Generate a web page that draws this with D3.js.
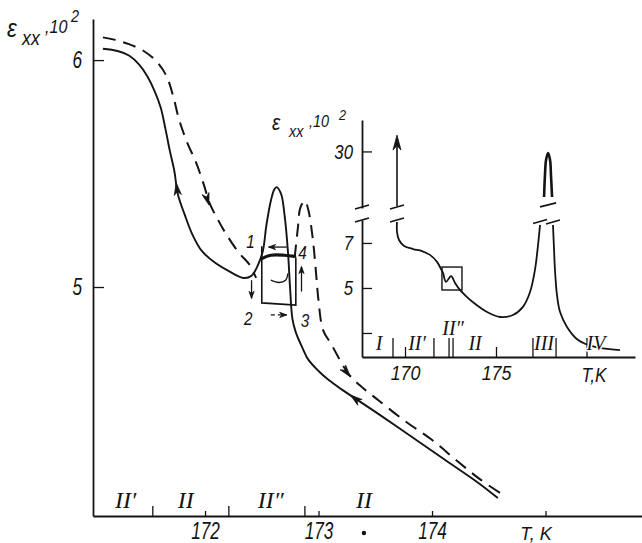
<!DOCTYPE html>
<html>
<head>
<meta charset="utf-8">
<script src="https://cdn.jsdelivr.net/npm/d3@7"></script>
<style>
  html, body { margin: 0; padding: 0; background: #fff; }
  svg { display: block; }
  .num { font-family: "Liberation Sans", "DejaVu Sans", sans-serif; font-style: italic; }
  .roman { font-family: "Liberation Serif", "DejaVu Serif", serif; font-style: italic; }
</style>
</head>
<body>
<div id="chart"></div>
<script>
// main panel: T (K) vs eps_xx (x10^2)
const mainTicks = [172, 173, 174, 175];
const mainTickLabels = ["172", "173", "174", ""];
const mainYTicks = [5, 6];
const mainBounds = [171.54, 172.21, 172.88];
const mainRegions = [["II\u2032", 171.30], ["II", 171.83], ["II\u2033", 172.58], ["II", 173.40]];
const mainDot = [173.40];

// cooling (solid) and heating (dashed) runs
const solidRun = [
  [171.10, 6.05], [171.23, 6.04], [171.33, 6.02], [171.42, 5.98], [171.49, 5.93],
  [171.55, 5.87], [171.61, 5.79], [171.65, 5.70], [171.69, 5.60], [171.73, 5.51],
  [171.76, 5.41], [171.82, 5.32], [171.89, 5.23], [171.97, 5.16], [172.08, 5.11],
  [172.21, 5.07], [172.34, 5.04], [172.41, 5.05], [172.46, 5.09], [172.51, 5.16],
  [172.54, 5.27], [172.58, 5.38], [172.61, 5.43], [172.63, 5.44], [172.67, 5.41],
  [172.70, 5.32], [172.73, 5.16], [172.75, 4.99], [172.77, 4.86], [172.80, 4.80],
  [172.86, 4.73], [172.91, 4.68], [173.00, 4.63], [173.09, 4.59], [173.20, 4.55],
  [173.32, 4.51], [173.53, 4.44], [173.82, 4.34], [174.11, 4.24], [174.40, 4.14],
  [174.58, 4.07]
];
const dashedRunA = [
  [171.10, 6.10], [171.20, 6.09], [171.33, 6.07], [171.46, 6.04], [171.58, 5.99],
  [171.66, 5.93], [171.72, 5.84], [171.77, 5.74], [171.84, 5.64], [171.92, 5.55],
  [171.99, 5.45], [172.04, 5.37], [172.11, 5.30], [172.19, 5.23], [172.30, 5.15],
  [172.39, 5.10], [172.45, 5.04]
];
const dashedRunB = [
  [172.79, 5.13], [172.82, 5.27], [172.84, 5.35], [172.88, 5.38], [172.91, 5.34],
  [172.95, 5.21], [172.98, 5.05], [173.00, 4.94], [173.04, 4.81], [173.11, 4.75],
  [173.26, 4.62], [173.38, 4.56], [173.53, 4.50], [173.76, 4.41], [173.99, 4.33],
  [174.23, 4.23], [174.43, 4.15], [174.64, 4.08]
];
// direction arrows on the runs: [from, to]
const runArrows = [
  { from: [171.763, 5.396], to: [171.746, 5.458] },
  { from: [172.0, 5.419], to: [172.035, 5.361] },
  { from: [173.175, 4.670], to: [173.281, 4.604] },
  { from: [173.395, 4.480], to: [173.281, 4.524] }
];

// minor hysteresis loop 1-2-3-4
const loopSides = [[172.50, 5.18], [172.50, 4.93], [172.80, 4.92], [172.80, 5.13]];
const loopTop = [[172.50, 5.125], [172.58, 5.14], [172.70, 5.14], [172.79, 5.135]];
const loopInner = [[172.58, 5.03], [172.65, 5.02], [172.71, 5.03], [172.73, 5.06]];
const loopArrows = [
  { from: [172.72, 5.176], to: [172.56, 5.176], dashed: false },
  { from: [172.41, 5.03], to: [172.41, 4.95], dashed: false },
  { from: [172.58, 4.877], to: [172.72, 4.877], dashed: true },
  { from: [172.85, 4.98], to: [172.85, 5.09], dashed: false }
];
const loopLabels = [["1", 172.40, 5.20], ["2", 172.38, 4.86], ["3", 172.88, 4.85], ["4", 172.86, 5.15]];

// inset: wide temperature range
const insetTicks = [170, 175];
const insetBounds = [169.34, 171.59, 172.42, 172.64, 177.03, 178.30, 180.0];
const insetYLow = [3, 5, 7];
const insetYHigh = [30];
const insetRegions = [["I", 168.57, 0], ["II\u2032", 170.66, 0], ["II\u2033", 172.64, 1], ["II", 173.85, 0], ["III", 177.64, 0], ["IV", 180.49, 0]];
const insetLeft = [
  [169.56, 7.93], [169.56, 7.49], [169.67, 7.13], [169.95, 6.87], [170.44, 6.73],
  [170.93, 6.64], [171.37, 6.47], [171.76, 6.16], [172.03, 5.76], [172.09, 5.67],
  [172.25, 5.27], [172.53, 5.53], [172.75, 5.22], [172.97, 4.96], [173.35, 4.64],
  [173.79, 4.33], [174.51, 3.93], [175.22, 3.71], [175.93, 3.80], [176.48, 4.16],
  [176.87, 4.82], [177.14, 5.80], [177.31, 6.91], [177.42, 7.80]
];
const insetRight = [
  [178.13, 7.80], [178.19, 6.69], [178.24, 5.80], [178.35, 4.69], [178.52, 3.93],
  [178.90, 3.27], [179.51, 2.69], [180.44, 2.38], [181.81, 2.24]
];
const insetSpike = [
  [177.64, 15.5], [177.69, 22.5], [177.75, 27.3], [177.86, 29.5],
  [177.97, 27.3], [178.02, 22.5], [178.08, 15.5]
];
const insetJump = [[169.56, 12.6], [169.56, 35.2]];
const insetBox = [[172.03, 5.93], [173.13, 4.91]];
// axis breaks: [T, eps, panel]
const insetBreaks = [
  [169.56, 8.02, "low"], [169.56, 12.3, "high"],
  [177.42, 7.95, "low"], [178.13, 7.93, "low"], [177.86, 13.0, "high"]
];

const width = 642;
const height = 543;
const ink = "#141414";

const svg = d3.select("#chart").append("svg")
  .attr("width", width)
  .attr("height", height)
  .attr("viewBox", [0, 0, width, height]);

svg.append("rect").attr("width", width).attr("height", height).attr("fill", "#fff");

const x = d3.scaleLinear().domain([171.013, 175.85]).range([93, 642]);
const y = d3.scaleLinear().domain([3.991, 6.181]).range([516, 19]);

const xi = d3.scaleLinear().domain([167.637, 182.637]).range([362, 635]);
const yiLow = d3.scaleLinear().domain([1.933, 8.02]).range([357, 220]);
const yiHigh = d3.scaleLinear().domain([12, 40]).range([208, 120]);

// the original lettering is a narrow drafting hand: compress glyphs horizontally
function squeeze(sel, k) {
  sel.each(function () {
    const t = d3.select(this);
    const x0 = +t.attr("x") || 0;
    t.attr("x", x0 / k).attr("transform", `scale(${k},1)`);
  });
}

function styleAxis(g, size, k) {
  g.select(".domain").attr("stroke", ink).attr("stroke-width", 1.8);
  g.selectAll(".tick line").attr("stroke", ink).attr("stroke-width", 1.3);
  g.selectAll(".tick text").attr("class", "num").attr("font-size", size).attr("fill", ink);
  squeeze(g.selectAll(".tick text"), k);
}

function label(textValue, px, py, size, k, cls = "num", anchor = "start") {
  const t = svg.append("text")
    .attr("class", cls)
    .attr("x", px).attr("y", py)
    .attr("text-anchor", anchor)
    .attr("font-size", size)
    .attr("fill", ink)
    .text(textValue);
  squeeze(t, k);
  return t;
}

function arrowHead(g, p0, p1, len, half) {
  const a = Math.atan2(p1[1] - p0[1], p1[0] - p0[0]);
  const c = Math.cos(a), s = Math.sin(a);
  const bx = p1[0] - len * c, by = p1[1] - len * s;
  const nx = p1[0] - 0.7 * len * c, ny = p1[1] - 0.7 * len * s;
  g.append("path")
    .attr("d", `M${p1[0]},${p1[1]}L${bx - half * s},${by + half * c}L${nx},${ny}L${bx + half * s},${by - half * c}Z`)
    .attr("fill", ink)
    .attr("stroke", ink)
    .attr("stroke-width", 0.8)
    .attr("stroke-linejoin", "round");
}

// ---- main axes
const gx = svg.append("g")
  .attr("transform", `translate(0,${y.range()[0]})`)
  .call(d3.axisBottom(x).tickValues(mainTicks)
    .tickFormat((d, i) => mainTickLabels[i])
    .tickSizeInner(-5).tickSizeOuter(0).tickPadding(7));
styleAxis(gx, 23, 0.75);

const gy = svg.append("g")
  .attr("transform", `translate(${x.range()[0]},0)`)
  .call(d3.axisLeft(y).tickValues(mainYTicks)
    .tickFormat(d3.format("d"))
    .tickSizeInner(-11).tickSizeOuter(0).tickPadding(11));
styleAxis(gy, 23, 0.75);

svg.append("g").selectAll("line")
  .data(mainBounds)
  .join("line")
  .attr("x1", (d) => x(d)).attr("x2", (d) => x(d))
  .attr("y1", y.range()[0]).attr("y2", y.range()[0] - 10)
  .attr("stroke", ink).attr("stroke-width", 1.3);

svg.append("g").selectAll("text")
  .data(mainRegions)
  .join("text")
  .attr("class", "roman")
  .attr("x", (d) => x(d[1]))
  .attr("y", y.range()[0] - 8)
  .attr("text-anchor", "middle")
  .attr("font-size", 24)
  .attr("fill", ink)
  .text((d) => d[0]);

svg.append("g").selectAll("circle")
  .data(mainDot)
  .join("circle")
  .attr("cx", (d) => x(d)).attr("cy", y.range()[0] + 17)
  .attr("r", 2.2).attr("fill", ink);

label("T, K", 536, 540, 19, 0.95, "num", "middle");

// main y title
label("\u03b5", 7, 37, 26, 0.85);
label("xx", 22, 45, 21, 0.85);
label(",10", 45, 33, 19, 0.85);
label("2", 71, 22, 17, 0.85);

// ---- main runs
const line = d3.line()
  .x((d) => x(d[0]))
  .y((d) => y(d[1]))
  .curve(d3.curveCatmullRom.alpha(0.5));

svg.append("path")
  .datum(solidRun)
  .attr("d", line)
  .attr("fill", "none")
  .attr("stroke", ink)
  .attr("stroke-width", 1.9)
  .attr("stroke-linejoin", "round");

[dashedRunA, dashedRunB].forEach((run) => {
  svg.append("path")
    .datum(run)
    .attr("d", line)
    .attr("fill", "none")
    .attr("stroke", ink)
    .attr("stroke-width", 2)
    .attr("stroke-dasharray", "13,8");
});

const arrowsG = svg.append("g");
runArrows.forEach((a) => {
  arrowHead(arrowsG, [x(a.from[0]), y(a.from[1])], [x(a.to[0]), y(a.to[1])], 12, 3.6);
});

// loop
const straight = d3.line().x((d) => x(d[0])).y((d) => y(d[1]));
svg.append("path")
  .datum(loopSides)
  .attr("d", straight)
  .attr("fill", "none")
  .attr("stroke", ink)
  .attr("stroke-width", 1.6);
svg.append("path")
  .datum(loopTop)
  .attr("d", line)
  .attr("fill", "none")
  .attr("stroke", ink)
  .attr("stroke-width", 3.2)
  .attr("stroke-linecap", "round");
svg.append("path")
  .datum(loopInner)
  .attr("d", line)
  .attr("fill", "none")
  .attr("stroke", ink)
  .attr("stroke-width", 1.3);

loopArrows.forEach((a) => {
  const p0 = [x(a.from[0]), y(a.from[1])];
  const p1 = [x(a.to[0]), y(a.to[1])];
  svg.append("line")
    .attr("x1", p0[0]).attr("y1", p0[1])
    .attr("x2", p1[0]).attr("y2", p1[1])
    .attr("stroke", ink)
    .attr("stroke-width", 1.3)
    .attr("stroke-dasharray", a.dashed ? "4,3" : null);
  arrowHead(svg, p0, p1, 7, 2.6);
});

loopLabels.forEach((d) => {
  label(d[0], x(d[1]), y(d[2]) + 6, 18, 0.85, "num", "middle");
});

// ---- inset
const gxi = svg.append("g")
  .attr("transform", `translate(0,${yiLow.range()[0]})`)
  .call(d3.axisBottom(xi).tickValues(insetTicks)
    .tickSizeInner(-10).tickSizeOuter(0).tickPadding(8));
styleAxis(gxi, 21, 0.85);

const gyiLow = svg.append("g")
  .attr("transform", `translate(${xi.range()[0]},0)`)
  .call(d3.axisLeft(yiLow).tickValues(insetYLow)
    .tickFormat((d) => (d === 3 ? "" : d))
    .tickSizeInner(-10).tickSizeOuter(0).tickPadding(9));
styleAxis(gyiLow, 21, 0.8);

const gyiHigh = svg.append("g")
  .attr("transform", `translate(${xi.range()[0]},0)`)
  .call(d3.axisLeft(yiHigh).tickValues(insetYHigh)
    .tickSizeInner(-10).tickSizeOuter(0).tickPadding(9));
styleAxis(gyiHigh, 21, 0.8);

svg.append("g").selectAll("line")
  .data(insetBounds)
  .join("line")
  .attr("x1", (d) => xi(d)).attr("x2", (d) => xi(d))
  .attr("y1", yiLow.range()[0]).attr("y2", yiLow.range()[0] - 19)
  .attr("stroke", ink).attr("stroke-width", 1.3);

// axis break on the inset y axis
[[yiLow, 8.02], [yiHigh, 12.3]].forEach(([sc, v]) => {
  const cy = sc(v);
  svg.append("line")
    .attr("x1", xi.range()[0] - 7).attr("y1", cy + 2)
    .attr("x2", xi.range()[0] + 7).attr("y2", cy - 2)
    .attr("stroke", ink).attr("stroke-width", 1.6);
});

const lineLow = d3.line()
  .x((d) => xi(d[0]))
  .y((d) => yiLow(d[1]))
  .curve(d3.curveCatmullRom.alpha(0.5));
const lineHigh = d3.line()
  .x((d) => xi(d[0]))
  .y((d) => yiHigh(d[1]))
  .curve(d3.curveCatmullRom.alpha(0.5));

[insetLeft, insetRight].forEach((run) => {
  svg.append("path")
    .datum(run)
    .attr("d", lineLow)
    .attr("fill", "none")
    .attr("stroke", ink)
    .attr("stroke-width", 1.8);
});
svg.append("path")
  .datum(insetSpike)
  .attr("d", lineHigh)
  .attr("fill", "none")
  .attr("stroke", ink)
  .attr("stroke-width", 2.6);

const jp0 = [xi(insetJump[0][0]), yiHigh(insetJump[0][1])];
const jp1 = [xi(insetJump[1][0]), yiHigh(insetJump[1][1])];
svg.append("line")
  .attr("x1", jp0[0]).attr("y1", jp0[1])
  .attr("x2", jp1[0]).attr("y2", jp1[1] + 6)
  .attr("stroke", ink).attr("stroke-width", 1.6);
arrowHead(svg, jp0, jp1, 15, 4);

insetBreaks.forEach(([t, v, panel]) => {
  const cx = xi(t);
  const cy = panel === "low" ? yiLow(v) : yiHigh(v);
  const half = panel === "high" && t > 177 ? 8 : 7;
  svg.append("line")
    .attr("x1", cx - half).attr("y1", cy + 2)
    .attr("x2", cx + half).attr("y2", cy - 2)
    .attr("stroke", ink).attr("stroke-width", 1.6);
});

svg.append("rect")
  .attr("x", xi(insetBox[0][0]))
  .attr("y", yiLow(insetBox[0][1]))
  .attr("width", xi(insetBox[1][0]) - xi(insetBox[0][0]))
  .attr("height", yiLow(insetBox[1][1]) - yiLow(insetBox[0][1]))
  .attr("fill", "none")
  .attr("stroke", ink)
  .attr("stroke-width", 1.4);

svg.append("g").selectAll("text")
  .data(insetRegions)
  .join("text")
  .attr("class", "roman")
  .attr("x", (d) => xi(d[1]))
  .attr("y", (d) => yiLow.range()[0] - 7 - d[2] * 15)
  .attr("text-anchor", "middle")
  .attr("font-size", 20)
  .attr("fill", ink)
  .attr("stroke", (d) => (d[0] === "IV" ? "#fff" : "none"))
  .attr("stroke-width", 3)
  .attr("paint-order", "stroke")
  .text((d) => d[0]);

label("T,K", 594, 382, 21, 0.82, "num", "middle");

// inset y title
label("\u03b5", 272, 130, 22, 0.85);
label("xx", 289, 137, 17, 0.85);
label(",10", 309, 127, 17, 0.85);
label("2", 339, 120, 15, 0.85);
</script>
</body>
</html>
